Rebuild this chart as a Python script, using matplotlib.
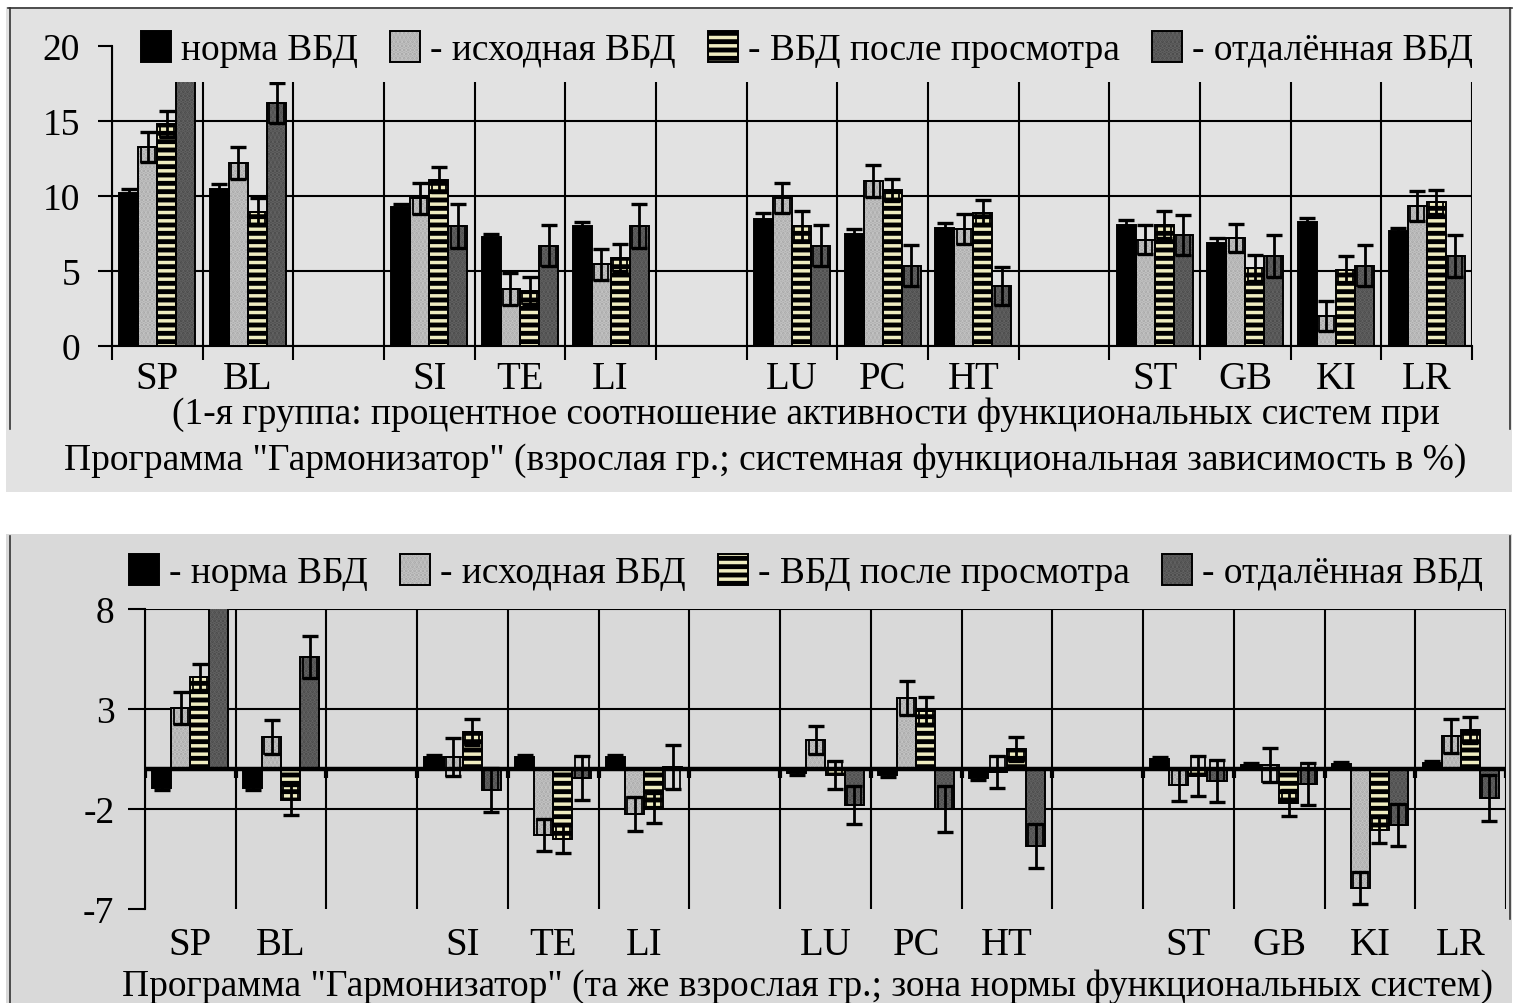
import matplotlib
matplotlib.use("Agg")
import matplotlib.pyplot as plt
from matplotlib.patches import Rectangle
from matplotlib.lines import Line2D
import numpy as np

plt.rcParams['font.family'] = ['Liberation Serif', 'DejaVu Serif']
plt.rcParams['hatch.linewidth'] = 2.5
plt.rcParams['axes.unicode_minus'] = False

# 15 category slots, blanks are the gaps between system groups
categories = ["SP", "BL", "", "SI", "TE", "LI", "", "LU", "PC", "HT", "", "ST", "GB", "KI", "LR"]
N = None

# upper panel: percent of functional system activity
top_norm = [10.2, 10.5, N, 9.3, 7.25, 8.0, N, 8.5, 7.5, 7.85, N, 8.1, 6.9, 8.3, 7.7]
top_norm_err = [0.3, 0.33, N, 0.2, 0.22, 0.26, N, 0.35, 0.33, 0.36, N, 0.29, 0.29, 0.24, 0.2]
top_init = [13.3, 12.2, N, 9.85, 3.8, 5.45, N, 9.9, 11.0, 7.8, N, 7.1, 7.2, 2.0, 9.35]
top_init_err = [1.0, 1.04, N, 1.05, 1.04, 1.04, N, 1.0, 1.05, 1.0, N, 0.95, 0.93, 1.0, 1.0]
top_after = [14.8, 8.95, N, 11.1, 3.7, 5.9, N, 8.0, 10.4, 8.9, N, 8.1, 5.2, 5.1, 9.6]
top_after_err = [0.89, 0.9, N, 0.85, 0.9, 0.89, N, 1.0, 0.76, 0.82, N, 0.93, 0.89, 0.89, 0.8]
top_late = [19.5, 16.2, N, 8.0, 6.7, 8.0, N, 6.7, 5.35, 4.0, N, 7.4, 6.0, 5.35, 6.0]
top_late_err = [1.4, 1.33, N, 1.45, 1.38, 1.45, N, 1.38, 1.38, 1.29, N, 1.36, 1.38, 1.38, 1.38]

# lower panel: deviation from the norm zone
bot_norm = [-0.95, -0.95, N, 0.6, 0.6, 0.6, N, -0.2, -0.3, -0.45, N, 0.5, 0.2, 0.25, 0.3]
bot_norm_err = [0.1, 0.1, N, 0.1, 0.1, 0.1, N, 0.1, 0.1, 0.1, N, 0.1, 0.1, 0.1, 0.1]
bot_init = [3.05, 1.6, N, 0.6, -3.3, -2.25, N, 1.45, 3.55, -0.15, N, -0.8, 0.2, -5.95, 1.65]
bot_init_err = [0.8, 0.84, N, 0.95, 0.8, 0.85, N, 0.7, 0.83, 0.78, N, 0.8, 0.83, 0.8, 0.86]
bot_after = [4.6, -1.55, N, 1.85, -3.5, -1.95, N, -0.3, 2.9, 1.0, N, -0.35, -1.7, -3.05, 1.95]
bot_after_err = [0.67, 0.75, N, 0.63, 0.7, 0.75, N, 0.72, 0.68, 0.62, N, 1.0, 0.65, 0.67, 0.67]
bot_late = [8.3, 5.6, N, -1.05, -0.45, 0.1, N, -1.8, -2.0, -3.85, N, -0.6, -0.75, -2.8, -1.45]
bot_late_err = [0.0, 1.07, N, 1.08, 1.1, 1.1, N, 0.95, 1.13, 1.08, N, 1.07, 1.05, 1.03, 1.16]

labels_top = ["норма ВБД", "- исходная ВБД", "- ВБД после просмотра", "- отдалённая ВБД"]
labels_bot = ["- норма ВБД", "- исходная ВБД", "- ВБД после просмотра", "- отдалённая ВБД"]

caption_top1 = "(1-я группа: процентное соотношение активности функциональных систем при"
caption_top2 = "Программа \"Гармонизатор\" (взрослая гр.; системная функциональная зависимость в %)"
caption_bot = "Программа \"Гармонизатор\" (та же взрослая гр.; зона нормы функциональных систем)"

faces = ["black", "#a8a8a8", "black", "#4a4a4a"]
hatches = [None, "....", "--", "...."]
hatch_cols = [None, "#c4c4c4", "#efecc0", "#636363"]
BG_TOP = "#e2e2e2"
BG_BOT = "#d9d9d9"
FS = 27

W, H = 1517, 1004
fig = plt.figure(figsize=(W / 100, H / 100), dpi=100)


def fx(px):
    return px / W


def fy(py):
    return (H - py) / H


# panel backgrounds and frame lines
fig.add_artist(Rectangle((fx(6), fy(493)), fx(1506), (493 - 8) / H, transform=fig.transFigure,
                         facecolor=BG_TOP, edgecolor="none", zorder=0))
fig.add_artist(Rectangle((fx(6), 0), fx(1506), (H - 535) / H, transform=fig.transFigure,
                         facecolor=BG_BOT, edgecolor="none", zorder=0))
for xs, ys in [((8, 1512), (9, 9)), ((10, 10), (9, 430)), ((1510, 1510), (9, 430)),
               ((10, 10), (537, 1004)), ((1510, 1510), (537, 920))]:
    fig.add_artist(Line2D([fx(v) for v in xs], [fy(v) for v in ys], transform=fig.transFigure,
                          color="#333333", lw=1.2, zorder=1))


def draw_panel(ax, series, errors):
    x = np.arange(len(categories))
    w = 0.21
    offsets = (np.arange(4) - 1.5) * w
    handles = []
    for i, (vals, errs) in enumerate(zip(series, errors)):
        vals = np.array(vals, dtype=float)
        errs = np.array(errs, dtype=float)
        xi = x + offsets[i]
        face = ax.bar(xi, vals, w, color=faces[i], edgecolor="none", linewidth=0, zorder=3)
        parts = [face.patches[0]]
        if hatches[i]:
            over = ax.bar(xi, vals, w, facecolor="none", edgecolor=hatch_cols[i],
                          hatch=hatches[i], linewidth=0, zorder=3.1)
            parts.append(over.patches[0])
        edge = ax.bar(xi, vals, w, facecolor="none", edgecolor="black", linewidth=1.4, zorder=3.2)
        parts.append(edge.patches[0])
        if i > 0:
            inner = np.where(vals >= 0, vals - errs, vals)
            ax.bar(xi, errs, w * 0.75, bottom=inner, facecolor="none", edgecolor="black",
                   linewidth=1.3, zorder=3.3)
        ax.errorbar(xi, vals, yerr=errs, fmt="none", ecolor="black", elinewidth=2,
                    capsize=6, capthick=2.4, zorder=3.4)
        handles.append(tuple(parts))
    ax.set_xlim(-0.5, len(categories) - 0.5)
    ax.set_xticks(x)
    ax.set_xticklabels(categories, fontsize=FS + 1)
    ax.set_xticks(np.arange(len(categories) + 1) - 0.5, minor=True)
    ax.set_facecolor("none")
    for s in ["top", "right"]:
        ax.spines[s].set_visible(False)
    return handles


def add_legend(ax, handles, labels, x0, yc, bg):
    leg = ax.legend(handles, labels, ncol=4, loc="center left", bbox_to_anchor=(fx(x0), fy(yc)),
                    bbox_transform=fig.transFigure, frameon=True, facecolor=bg, edgecolor="none",
                    framealpha=1, fontsize=FS, handlelength=0.8, handleheight=0.9,
                    handletextpad=0.27, columnspacing=0.85, borderpad=0.4, borderaxespad=0)
    leg.set_zorder(10)
    return leg


# ---- upper panel ----
ax1 = fig.add_axes([fx(112), fy(347), 1360 / W, 300 / H])
h1 = draw_panel(ax1, [top_norm, top_init, top_after, top_late],
                [top_norm_err, top_init_err, top_after_err, top_late_err])
ax1.set_ylim(0, 20)
ax1.set_yticks([0, 5, 10, 15, 20])
ax1.tick_params(axis="y", labelsize=FS, length=10, width=1.5, direction="out", pad=13)
ax1.tick_params(axis="x", which="major", length=0, pad=10)
ax1.tick_params(axis="x", which="minor", length=10, width=1.5, direction="out")
ax1.grid(True, which="minor", axis="x", color="black", lw=1.5, zorder=1)
ax1.grid(True, which="major", axis="y", color="black", lw=1.5, zorder=1)
ax1.get_ygridlines()[-1].set_visible(False)
ax1.spines["left"].set_linewidth(1.5)
ax1.spines["bottom"].set_linewidth(1.5)
add_legend(ax1, h1, labels_top, 126, 50, BG_TOP)
fig.text(fx(806), fy(415), caption_top1, fontsize=FS, ha="center", va="center")
fig.text(fx(765), fy(461), caption_top2, fontsize=FS, ha="center", va="center")

# ---- lower panel ----
ax2 = fig.add_axes([fx(145), fy(910), 1361 / W, 300 / H])
h2 = draw_panel(ax2, [bot_norm, bot_init, bot_after, bot_late],
                [bot_norm_err, bot_init_err, bot_after_err, bot_late_err])
ax2.set_ylim(-7, 8)
ax2.set_yticks([-7, -2, 3, 8])
ax2.spines["bottom"].set_visible(False)
ax2.spines["left"].set_linewidth(1.5)
ax2.tick_params(axis="y", labelsize=FS, length=12, width=1.5, direction="out", pad=10)
ax2.tick_params(axis="x", which="major", length=0, pad=12)
ax2.tick_params(axis="x", which="minor", length=0)
ax2.grid(True, which="minor", axis="x", color="black", lw=1.5, zorder=1)
ax2.grid(True, which="major", axis="y", color="black", lw=1.5, zorder=1)
ax2.get_ygridlines()[0].set_visible(False)
ax2.axhline(0, color="black", lw=3.2, zorder=4)
ax2.vlines(np.arange(len(categories) + 1) - 0.5, -0.45, 0, color="black", lw=3, zorder=4)
add_legend(ax2, h2, labels_bot, 114, 573, BG_BOT)
fig.text(fx(808), fy(987), caption_bot, fontsize=FS, ha="center", va="center")

fig.savefig("out.png", dpi=100)
